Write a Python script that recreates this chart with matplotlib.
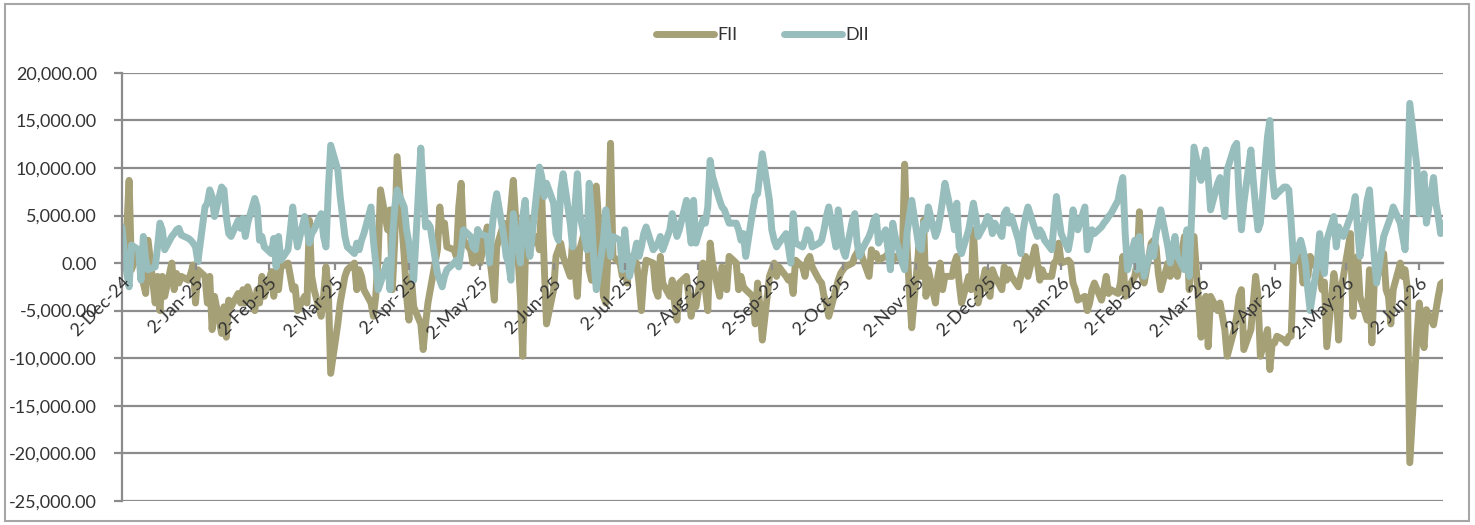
import matplotlib
matplotlib.use("Agg")
import matplotlib.pyplot as plt
from matplotlib.ticker import FuncFormatter, FixedLocator, FixedFormatter
from matplotlib.patches import Rectangle
from matplotlib.lines import Line2D
import matplotlib.dates as mdates
import pandas as pd

plt.rcParams['font.family'] = ['Lato', 'DejaVu Sans']

# Daily net flows (one value per business day from 2-Dec-24 to 12-Jun-26)
fii = [
    # Dec-24
    -400, 700, 3500, 8700, -700, 1400, 0, -2100, -3200, 2400, -4200, -1400, -5000, -1400, -3500,
    0, -2800, -1100, -2100, -1400, -1800, -1100,
    # Jan-25
    -200, -4200, -700, -1400, -4200, -1400, -7000, -3500, -7400, -4600, -7800, -3900, -4600,
    -3200, -4200, -2800, -4200, -2500, -5000, -2800, -4200, -1400, -3500,
    # Feb-25
    -900, -3500, -700, -2800, -400, 0, -1400, -2800, -2500, -5000, -3500, -4200, 4500, -1400, -2800,
    -5600, -3500, -400, -2800, -11600,
    # Mar-25
    -6400, -4200, -2800, -1400, -700, 0, -2800, -700, -1400, -2800, -4200, -5600, -3500, 700, 7700,
    3500, 5600, -2800, 2400, 11200, 700,
    # Apr-25
    -3500, -6000, -1400, -4600, -6400, -9100, -6400, -4200, -2800, 1400, 5900, 3500, 4200, 1700,
    1400, 700, 5900, 8400, 2400, 1400, 0, 700,
    # May-25
    3500, 0, 3800, 700, -1400, -3900, 1700, 4200, 1400, 3500, 5900, 8700, -3500, -9800, 0, 4700,
    1700, 2800, 1400, 7000, 0, -6400,
    # Jun-25
    -2800, 700, 1400, 2100, 700, -1400, 2400, -700, -3500, 1400, 4200, -700, -1800, -1400, 8100,
    -3500, -4200, 1400, 12600, 700, 0,
    # Jul-25
    -1400, 0, -2100, 700, 0, -2100, -5000, -1400, 300, 0, -2800, -3500, 700, -2100, -3500, -1800,
    -4200, -6000, -2100, -1400, -3500, -5600, -3500,
    # Aug-25
    -4600, 0, -2800, -5000, 2100, 0, -3500, -400, -1400, -2800, 700, 0, -2800, -1400, -2500, -2800,
    -3500, -6400, -2100, -4600, -8100,
    # Sep-25
    -1400, -700, 0, -1400, -400, -1400, -1800, -1400, -3200, 300, -400, -1400, 300, 700, -400,
    -1800, -2100, -3500, -4200, -5600, -2800, -1800,
    # Oct-25
    -1100, -700, -400, 0, 700, 1100, 1700, 700, -1400, 1400, 700, 1000, 300, 700, 1000, 700, 300,
    700, 300, 10400, 2000, -3000, -6800,
    # Nov-25
    1700, -1400, 4500, -3500, -700, -4200, -1400, 0, -2800, -1400, -1400, 0, 700, -2100, -4200,
    -1400, -2800, 3500, -1400, -4200,
    # Dec-25
    -700, -2800, -3500, -700, -1400, -2800, -400, -1800, -700, -1400, -2500, -1400, -400, 700,
    -1400, 1700, 0, -1800, -700, -1400, -1400, 0, 300,
    # Jan-26
    2100, 0, 300, 0, -2100, -2800, -3900, -3500, -5000, -4200, -2800, -2100, -3900, -2800, -1400,
    -3200, -2800, -3200, -2100, 700, -3500, -2800,
    # Feb-26
    -1400, 0, 5400, -1400, -2100, 2100, 2400, 1700, -1100, -2800, 0, -1400, -700, 700, -1400,
    2800, 2400, -2800, 2100, 2800,
    # Mar-26
    -7800, -4200, -3500, -8800, -3500, -5000, -4200, -5600, -7000, -9800, -7000, -5600, -3500,
    -2800, -9100, -7000, -4200, -1400, -3500, -9800, -7000, -11200,
    # Apr-26
    -8400, -8400, -7700, -8100, -8400, -7700, -7700, 0, 700, -2100, 700, -1400, 700, -700, -1400,
    -2800, -2000, -8800, -1100, -2800, -8100, -2800,
    # May-26
    -1400, 3100, -5600, -1400, 700, -3500, -6000, -700, -8400, -2100, -1800, 1000, -2800, -3500,
    -6400, -2800, 0, -1400, -700, -2800, -21000,
    # Jun-26
    -7800, -4200, -6400, -8900, -4900, -6500, -5000, -3500, -2200, -2000,
]

dii = [
    # Dec-24
    3800, 1000, -1000, -2500, 1900, 1400, -1800, 2800, 300, -700, -400, 1700, 4200, 3500, 1400,
    2800, 3100, 3500, 3650, 2950, 2600, 2400,
    # Jan-25
    2100, 1700, 150, 5900, 6300, 7700, 7000, 4900, 8000, 7700, 4900, 3100, 2800, 4500, 3650, 4700,
    2800, 4200, 6800, 5900, 2400, 2800, 1700,
    # Feb-25
    1000, 2600, -400, 2800, 300, 1400, 3500, 5900, 3500, 1700, 4900, 3500, 2100, 3100, 3500, 5200,
    2800, 1700, 7700, 12400,
    # Mar-25
    9800, 7000, 4900, 2800, 1700, 1000, 2100, 1400, 2400, 3100, 5900, 2400, 0, -2800, -2100, 300,
    -2800, 2400, 5900, 7700, 5900,
    # Apr-25
    3500, 2100, 0, -1800, 12100, 7700, 3800, 4200, 3800, -1100, -1800, -2500, -1400, -700, 0, 300,
    -400, 1400, 3500, 2800, 1700, 1400,
    # May-25
    3500, 3100, 2800, 0, 3500, 5900, 7300, 2800, 700, 0, -1800, 5200, 0, 4900, 6600, 2400, 700,
    7700, 10100, 9100, 7000, 8400,
    # Jun-25
    6300, 3100, 2400, 7700, 9400, 4200, 1700, 5900, 9400, 5200, 1400, 8400, 4900, 0, -2800, 2400,
    5600, 3100, 700, 2800, 2400,
    # Jul-25
    -700, 3500, 700, -1400, 2100, 700, 1700, 3100, 3800, 1400, 1700, 2100, 2800, 1400, 3500, 5200,
    4200, 2800, 3500, 6600, 4200, 2100, 6600,
    # Aug-25
    2100, 4600, 4200, 5900, 10800, 9100, 6600, 5900, 5600, 4900, 4200, 4200, 3500, 2400, 3100, 700,
    5600, 7000, 7300, 9400, 11500,
    # Sep-25
    6600, 3500, 2400, 1700, 2100, 3100, 1700, 0, 5200, 2100, 1700, 2400, 3500, 3100, 1700, 2100,
    2400, 3500, 4900, 5900, 1700, 5600,
    # Oct-25
    3500, 1400, 700, 4500, 5200, 2100, 700, 1400, 2800, 3500, 4500, 4900, 2100, 3500, 1400, -700,
    4200, 2800, 0, -700, 3100, 4900, 6600,
    # Nov-25
    1700, 1400, 4200, 3500, 5900, 2800, 3500, 4900, 6600, 8400, 4900, 3500, 6300, 1700, 1000, 3500,
    4900, 6300, 4900, 2800,
    # Dec-25
    4200, 4900, 4500, 3100, 4200, 2800, 5200, 5600, 4200, 4900, 2400, 1000, 3500, 4900, 5900, 3500,
    2800, 3500, 3100, 2400, 1400, 4200, 7000,
    # Jan-26
    4900, 3100, 1400, 2800, 5600, 4200, 3500, 5900, 1400, 2400, 3500, 3100, 3800, 4200, 4500, 4900,
    5200, 6600, 8000, 9000, 3100, -700,
    # Feb-26
    2400, -700, 2800, 700, -1400, 1700, 700, 3100, 4200, 5600, 1700, 0, 1400, 2800, 700, -700, 3500,
    -1400, 4900, 12200,
    # Mar-26
    8700, 10500, 11900, 9100, 5600, 8400, 9000, 7000, 4900, 9800, 12200, 12600, 7000, 3500, 6300,
    11900, 8700, 5900, 3500, 4200, 13300, 15000,
    # Apr-26
    9400, 7000, 7300, 8000, 8000, 7700, 4200, 300, 2400, 1400, 0, -2800, -5000, 0, 3100, 700, -1100,
    2400, 4900, 1700, 3800, 3100,
    # May-26
    2800, 4900, 5600, 7000, 3500, 700, 6600, 7700, 4200, 700, -2100, 2800, 3500, 4200, 4900, 5900,
    4200, 2800, 1400, 7700, 16800,
    # Jun-26
    10100, 5200, 7700, 9400, 4200, 9000, 6300, 4900, 3100, 4200,
]

series_names = ["FII", "DII"]
series_colors = ["#A6A077", "#98BDBD"]
y_ticks = list(range(-25000, 20001, 5000))

dates = pd.bdate_range("2024-12-02", periods=len(fii))
tick_dates = pd.date_range("2024-12-01", "2026-06-01", freq="MS") + pd.Timedelta(days=1)
tick_labels = [f"{d.day}-{d:%b-%y}" for d in tick_dates]

fig = plt.figure(figsize=(14.75, 5.25), dpi=100)
ax = fig.add_axes([0.0827, 0.0463, 0.8956, 0.8147])

grey = "#8c8c8c"
txt = "#333333"

# horizontal gridlines below the data
for yv in y_ticks:
    ax.axhline(yv, color=grey, lw=1.6, zorder=0.5)

for vals, name, col in zip([fii, dii], series_names, series_colors):
    ax.plot(dates, vals, color=col, lw=5.0, solid_joinstyle="round",
            solid_capstyle="round", label=name, zorder=2)

ax.set_ylim(-25000, 20000)
ax.set_xlim(dates[0], dates[-1])
ax.set_yticks(y_ticks)
ax.yaxis.set_major_formatter(FuncFormatter(lambda v, p: f"{v:,.2f}"))

ax.xaxis.set_major_locator(FixedLocator(mdates.date2num(tick_dates.to_pydatetime())))
ax.xaxis.set_major_formatter(FixedFormatter(tick_labels))
ax.xaxis.set_zorder(5)

for s in ["top", "right"]:
    ax.spines[s].set_visible(False)
ax.spines["left"].set_color(grey)
ax.spines["left"].set_linewidth(1.6)
ax.spines["bottom"].set_position(("data", 0))
ax.spines["bottom"].set_color(grey)
ax.spines["bottom"].set_linewidth(1.6)
ax.spines["bottom"].set_zorder(0.6)

ax.tick_params(axis="y", length=6, width=1.6, color=grey, labelsize=13,
               labelcolor=txt, pad=12)
ax.tick_params(axis="x", length=5, width=1.6, color=grey, labelsize=13,
               labelcolor=txt, pad=3, labelrotation=45)

handles = [Line2D([0], [0], color=c, lw=5, solid_capstyle="round") for c in series_colors]
fig.legend(handles, series_names, loc="center", bbox_to_anchor=(0.517, 0.933),
           ncol=2, frameon=False, fontsize=13, handlelength=3.2,
           handletextpad=0.2, columnspacing=2.6, labelcolor=txt)

fig.patches.append(Rectangle((5 / 1475, 4 / 525), 1464 / 1475, 517 / 525,
                             transform=fig.transFigure, fill=False,
                             edgecolor="#a6a6a6", lw=1.5))

fig.canvas.draw()
for lab in ax.get_xticklabels():
    lab.set_rotation(45)
    lab.set_ha("right")
    lab.set_va("top")
    lab.set_rotation_mode("anchor")

fig.savefig("out.png", dpi=100)
